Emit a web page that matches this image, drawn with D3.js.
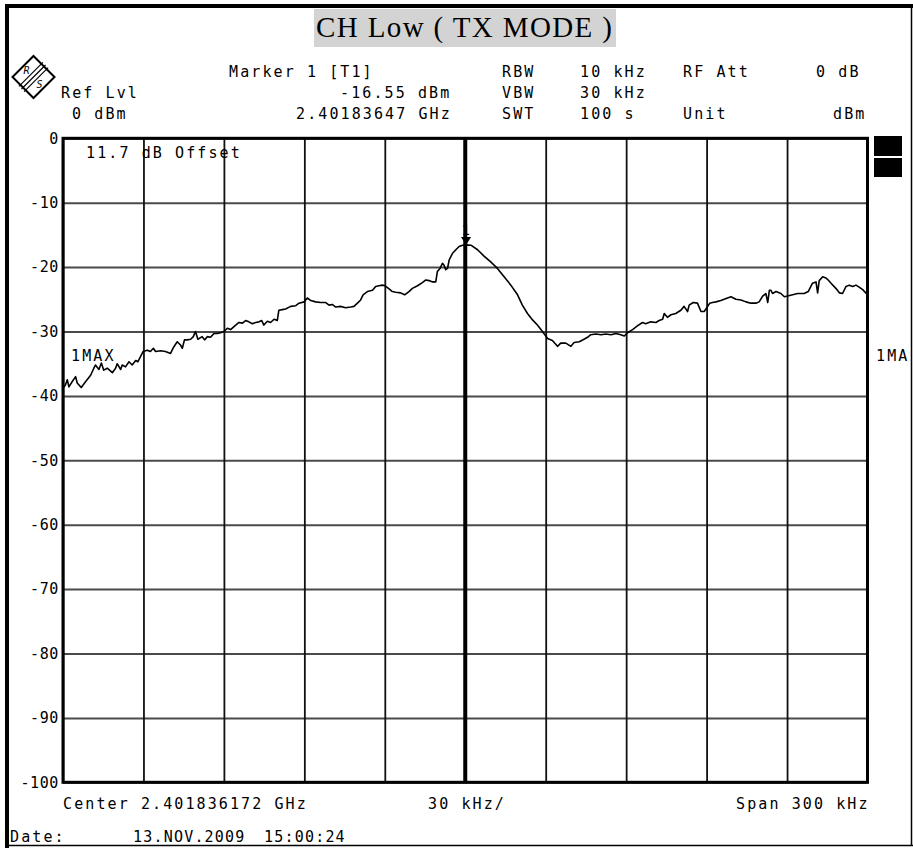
<!DOCTYPE html>
<html><head><meta charset="utf-8">
<script src="https://cdn.jsdelivr.net/npm/d3@7"></script>
<style>
body{margin:0;background:#fff}
svg text{font-family:"DejaVu Sans Mono",monospace;font-size:15px;letter-spacing:2.1px;fill:#000}
</style>
</head><body><svg id="c" width="913" height="848"></svg>
<script>
// ---- data (frequency offset from center in kHz, level in dBm) ----
const freqKHz = [-150,-149.1,-148.4,-147.8,-146.6,-145.3,-144.7,-143.2,-141.6,-139.7,-138.5,-137.9,-136.6,-135.7,-134.8,-133.5,-131.6,-130.4,-129.8,-128.5,-127.9,-126.7,-125.4,-124.2,-122.9,-122.1,-121.1,-120.1,-118.6,-117.4,-116.3,-115.5,-113.6,-111.8,-109.9,-108.7,-107.4,-106.2,-105.5,-104.7,-103.7,-102.4,-101.4,-100.6,-99.7,-98.1,-97.2,-96.2,-95.0,-93.7,-92.5,-91.2,-90.0,-88.7,-87.5,-85.6,-84.4,-83.1,-81.9,-80.7,-79.4,-78.2,-76.9,-75.9,-75.1,-73.8,-72.6,-71.3,-70.1,-69.5,-68.2,-67.0,-65.1,-63.2,-62.0,-60.1,-58.9,-57.6,-55.8,-53.9,-52.0,-50.8,-49.6,-48.3,-46.5,-44.6,-42.7,-41.5,-40.2,-39.0,-38.1,-36.5,-34.6,-33.4,-32.2,-30.9,-29.9,-28.4,-27.2,-25.9,-24.1,-22.6,-21.0,-19.7,-17.8,-16.0,-14.7,-13.5,-12.2,-11.0,-10.4,-9.4,-8.5,-7.9,-7.3,-6.6,-6.0,-4.8,-3.5,-2.3,-1.0,0.3,2.1,4.6,7.0,9.5,12.0,14.5,17.0,19.5,21.3,23.2,25.1,26.9,28.8,30.7,32.5,34.4,35.6,37.5,39.4,40.6,42.5,44.3,45.6,46.8,48.7,50.6,52.4,54.3,56.2,58.0,59.3,60.5,62.4,64.3,66.1,67.3,69.2,71.1,72.3,73.6,74.2,75.4,76.7,78.5,80.4,81.6,82.9,83.5,85.0,86.6,87.9,89.1,90.4,91.2,92.2,93.5,95.3,97.8,99.1,100.9,102.8,104.7,106.5,108.4,109.6,110.9,112.1,112.8,113.4,114.0,114.6,115.9,117.7,119.0,120.2,122.1,124.0,126.4,127.9,129.5,130.8,131.4,132.0,133.3,134.5,135.1,136.4,138.2,139.5,140.7,142.0,143.2,144.5,145.7,146.9,148.2,149.8];
const levelDbm = [-38.8,-38.3,-37.5,-38.6,-37.8,-37.0,-38.0,-38.7,-37.8,-36.8,-35.7,-35.2,-35.9,-34.9,-36.0,-35.7,-36.4,-35.7,-35.0,-35.9,-35.2,-35.5,-34.7,-35.2,-34.5,-34.7,-33.9,-33.1,-32.9,-33.1,-32.6,-33.1,-33.0,-33.1,-33.4,-32.4,-31.6,-32.1,-32.6,-31.3,-31.3,-31.2,-30.8,-30.0,-31.2,-30.8,-31.3,-30.8,-30.9,-30.3,-30.3,-30.2,-30.0,-29.5,-29.7,-29.0,-28.6,-28.7,-28.3,-28.5,-28.8,-28.6,-28.5,-28.3,-29.0,-28.4,-28.6,-28.1,-28.3,-26.7,-26.6,-26.5,-26.1,-26.0,-25.6,-25.4,-24.8,-25.2,-25.4,-25.5,-25.5,-25.9,-25.8,-26.2,-26.1,-26.3,-26.2,-26.1,-25.6,-25.1,-24.3,-23.8,-23.6,-23.0,-22.9,-22.8,-22.9,-23.4,-23.8,-23.9,-24.0,-24.3,-23.8,-23.3,-22.9,-22.4,-22.0,-22.1,-22.3,-22.3,-20.7,-20.2,-19.4,-19.7,-20.4,-20.2,-18.9,-17.9,-17.3,-16.8,-16.6,-16.55,-16.6,-17.3,-18.3,-19.2,-20.2,-21.5,-22.8,-24.3,-25.9,-27.2,-28.2,-29.0,-30.0,-31.1,-31.4,-32.3,-31.8,-31.8,-32.3,-31.7,-31.6,-31.2,-30.9,-30.5,-30.4,-30.5,-30.4,-30.5,-30.3,-30.5,-30.7,-30.2,-29.7,-29.1,-28.6,-28.8,-28.5,-28.6,-28.3,-28.1,-27.2,-27.8,-27.4,-27.2,-26.7,-26.1,-26.9,-25.9,-25.5,-25.6,-26.9,-26.9,-26.1,-25.6,-25.5,-25.4,-25.2,-24.8,-24.6,-25.0,-25.1,-25.4,-25.6,-25.6,-25.4,-24.5,-24.1,-25.5,-23.6,-23.6,-24.1,-23.8,-24.1,-24.6,-24.5,-24.3,-24.1,-24.1,-23.8,-22.5,-22.3,-24.0,-22.1,-21.5,-21.7,-21.9,-22.5,-23.3,-24.0,-24.1,-23.0,-22.8,-23.0,-22.8,-23.1,-23.5,-24.2];
const markerFreq = 0.3, markerLevel = -16.55;
const xTicks = [-150,-120,-90,-60,-30,0,30,60,90,120,150];
const yTicks = [0,-10,-20,-30,-40,-50,-60,-70,-80,-90,-100];
const titleText = "CH Low ( TX MODE )";
const headerCol1 = ["Marker 1 [T1]", "-16.55 dBm", "2.40183647 GHz"];
const headerCol2 = ["RBW", "VBW", "SWT"];
const headerCol3 = ["10 kHz", "30 kHz", "100 s"];
const headerCol4 = ["RF Att", "", "Unit"];
const headerCol5 = ["0 dB", "", "dBm"];
const refLabels = ["Ref Lvl", "0 dBm"];
const footerLabels = ["Center 2.401836172 GHz", "30 kHz/", "Span 300 kHz"];
const dateLabels = ["Date:", "13.NOV.2009", "15:00:24"];
const offsetLabel = "11.7 dB Offset";
const traceLabelL = "1MAX", traceLabelR = "1MA";

// ---- drawing ----
const svg = d3.select("#c");
const L = 63, R = 867.5, T = 138.3, B = 782.3;
const x = d3.scaleLinear().domain([-150,150]).range([L,R]);
const y = d3.scaleLinear().domain([-100,0]).range([B,T]);

svg.append("rect").attr("width",913).attr("height",848).attr("fill","#fff");

// outer frame
svg.append("line").attr("x1",5).attr("x2",913).attr("y1",6).attr("y2",6).attr("stroke","#000").attr("stroke-width",4);
svg.append("line").attr("x1",7).attr("x2",7).attr("y1",4).attr("y2",848).attr("stroke","#000").attr("stroke-width",4);
svg.append("line").attr("x1",911.5).attr("x2",911.5).attr("y1",4).attr("y2",846).attr("stroke","#000").attr("stroke-width",1.5);
svg.append("line").attr("x1",5).attr("x2",913).attr("y1",845.5).attr("y2",845.5).attr("stroke","#000").attr("stroke-width",1.5);

// title
svg.append("rect").attr("x",314).attr("y",9).attr("width",302).attr("height",38).attr("fill","#d3d3d3");
svg.append("text").attr("x",316).attr("y",37).attr("textLength",296).attr("lengthAdjust","spacing")
  .style("font-family","'Liberation Serif','Times New Roman',serif").style("font-size","29px").style("letter-spacing","0px")
  .text(titleText);

// header rows
const rowY = [77, 98, 119];
function put(txt, px, py, ls){ if(!txt) return null; const t = svg.append("text").attr("x",px).attr("y",py).text(txt); if(ls!==undefined) t.style("letter-spacing",ls+"px"); return t; }
put(headerCol1[0], 229, rowY[0]);
put(headerCol1[1], 340, rowY[1]);
put(headerCol1[2], 296, rowY[2]);
headerCol2.forEach((t,i)=>put(t, 502, rowY[i]));
headerCol3.forEach((t,i)=>put(t, 580, rowY[i]));
headerCol4.forEach((t,i)=>put(t, 683, rowY[i]));
put(headerCol5[0], 816, rowY[0]);
put(headerCol5[2], 833, rowY[2]);
put(refLabels[0], 61, rowY[1]);
put(refLabels[1], 72, rowY[2]);

// R&S logo
const lg = svg.append("g").attr("transform","translate(33.5,77)");
lg.append("path").attr("d","M0,-21L21,0L0,21L-21,0Z").attr("fill","#fff").attr("stroke","#000").attr("stroke-width",2);
[-2.6,0,2.6].forEach(o=>{
  lg.append("line").attr("x1",-12+o).attr("y1",12+o).attr("x2",12+o).attr("y2",-12+o).attr("stroke","#000").attr("stroke-width",1.2);
});
lg.append("text").attr("x",-10).attr("y",-3).style("font-size","10px").style("letter-spacing","0px").style("font-style","italic").text("R");
lg.append("text").attr("x",3).attr("y",11).style("font-size","10px").style("letter-spacing","0px").style("font-style","italic").text("S");

// gridlines via axes
const gy = svg.append("g").attr("transform",`translate(${L},0)`)
  .call(d3.axisLeft(y).tickValues(yTicks).tickSize(-(R-L)).tickPadding(4).tickFormat(d=>String(d)));
gy.select(".domain").remove();
gy.selectAll(".tick line").attr("stroke","#4a4a4a").attr("stroke-width",2);
gy.selectAll(".tick text").attr("font-family",null).attr("font-size",null).attr("fill","#000").style("letter-spacing","0.6px");

const gx = svg.append("g").attr("transform",`translate(0,${B})`)
  .call(d3.axisBottom(x).tickValues(xTicks).tickSize(-(B-T)).tickFormat(""));
gx.select(".domain").remove();
gx.selectAll(".tick line").attr("stroke","#111").attr("stroke-width",1.8);

// center line
svg.append("line").attr("x1",x(0)).attr("x2",x(0)).attr("y1",T).attr("y2",B).attr("stroke","#000").attr("stroke-width",4);

// plot frame
svg.append("rect").attr("x",L).attr("y",T).attr("width",R-L).attr("height",B-T).attr("fill","none").attr("stroke","#000").attr("stroke-width",3);

// side squares
svg.append("rect").attr("x",874).attr("y",136).attr("width",28).attr("height",20).attr("fill","#000");
svg.append("rect").attr("x",874).attr("y",158).attr("width",28).attr("height",19).attr("fill","#000");

// trace
const pts = freqKHz.map((f,i)=>[f, levelDbm[i]]);
svg.append("path").datum(pts).attr("fill","none").attr("stroke","#000").attr("stroke-width",1.6)
  .attr("stroke-linejoin","round")
  .attr("d", d3.line().x(d=>x(d[0])).y(d=>y(d[1])));

// marker
const mx = x(markerFreq), my = y(markerLevel);
svg.append("path").attr("d",`M${mx-5},${my-8}L${mx+5},${my-8}L${mx},${my}Z`).attr("fill","#000");
svg.append("text").attr("x",mx-4.5).attr("y",my-10).style("font-size","14px").style("letter-spacing","0px").text("1");

// in-plot labels
put(offsetLabel, 86, 158);
put(traceLabelL, 71, 361);
put(traceLabelR, 876, 361);

// footer
put(footerLabels[0], 63, 809);
put(footerLabels[1], 428, 809);
put(footerLabels[2], 736, 809);
put(dateLabels[0], 10, 842);
put(dateLabels[1], 133, 842, 1.2);
put(dateLabels[2], 264, 842, 1.2);
</script></body></html>
